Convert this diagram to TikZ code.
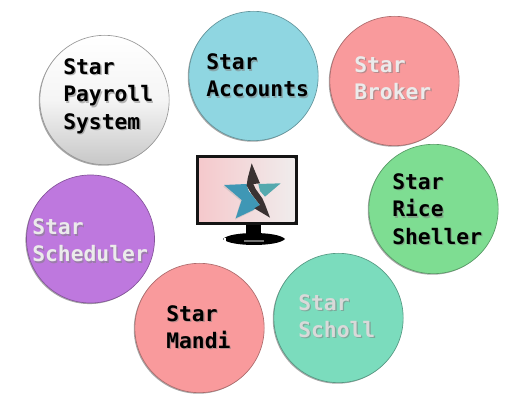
\documentclass[tikz,border=0pt]{standalone}
\usepackage{fontspec}
\setmainfont{DejaVu Sans Mono}[BoldFont=DejaVu Sans Mono Bold]
\usetikzlibrary{shadows}
\definecolor{cblue}{HTML}{8FD6E1}
\definecolor{cpink}{HTML}{F99A9C}
\definecolor{cgreen}{HTML}{7EDD92}
\definecolor{cteal}{HTML}{7BDCBD}
\definecolor{cpurple}{HTML}{BE78DE}
\definecolor{stark}{HTML}{3F97B5}
\definecolor{starg}{HTML}{55A9AE}
\definecolor{sdark}{HTML}{3A3232}
\definecolor{scrpink}{HTML}{F5C9CC}
\definecolor{scrgray}{HTML}{F0ECEC}
\tikzset{
  disc/.style={circle,minimum size=97pt,inner sep=0pt,draw=#1!70!black,line width=.5pt,fill=#1,
    drop shadow={shadow xshift=-.8pt,shadow yshift=-.8pt,opacity=.35,fill=black}},
  label/.style={anchor=west,align=left,inner sep=0pt,font=\fontsize{16pt}{20.6pt}\selectfont\bfseries,text=#1},
  lblshadow/.style={label=black!#1,opacity=.55},
}
\newcommand{\lbl}[6]{%
  \node[lblshadow=#5] at (#2+1.3,#3+1.5) {#6};
  \node[label=#4] (#1) at (#2,#3) {#6};}
\begin{document}
\begin{tikzpicture}[x=.75pt,y=-.75pt]
\useasboundingbox (0,0) rectangle (507,402);
\fill[white] (0,0) rectangle (507,402);
% discs
\node[disc=cblue] (accounts) at (253.5,76) {};
\node[disc=cpink] (broker) at (394.5,81) {};
\node[disc=cgreen] (rice) at (433.5,209) {};
\node[disc=cteal] (scholl) at (338.5,318) {};
\node[disc=cpink] (mandi) at (199.5,328) {};
\node[circle,minimum size=96pt,inner sep=0pt,draw=cpurple!70!black,line width=.5pt,fill=cpurple,
  drop shadow={shadow xshift=-.8pt,shadow yshift=-.8pt,opacity=.35,fill=black}] (scheduler) at (90.5,239) {};
\node[circle,minimum size=97pt,inner sep=0pt,draw=black!40,line width=.5pt,top color=white,bottom color=black!22,middle color=black!4,
  drop shadow={shadow xshift=-.8pt,shadow yshift=-.8pt,opacity=.35,fill=black}] (payroll) at (104.5,100) {};
% labels
\lbl{tpayroll}{63}{96}{black}{50}{Star\\Payroll\\System}
\lbl{taccounts}{206}{75.5}{black}{50}{Star\\Accounts}
\lbl{tbroker}{354}{78}{white!92!black}{50}{Star\\Broker}
\lbl{trice}{392}{209}{black}{50}{Star\\Rice\\Sheller}
\lbl{tscholl}{298}{316}{white!85!black}{50}{Star\\Scholl}
\lbl{tmandi}{166}{327}{black}{50}{Star\\Mandi}
\lbl{tscheduler}{32}{240.5}{white!92!black}{50}{Star\\Scheduler}
% monitor
\fill[black] (246,222) rectangle (261,241);
\fill[black] (223,239) .. controls (230,231) and (278,231) .. (285,239) .. controls (278,247) and (230,247) .. (223,239) -- cycle;
\fill[black!55] (244,240) rectangle (264,242);
\fill[white] (224,238) rectangle (226,241);
\fill[black!92] (195.5,155) rectangle (298,225);
\shade[left color=scrpink,right color=scrgray] (199,159) rectangle (294.5,222);
% star
\begin{scope}[shift={(215,155)},x=.25pt,y=-.25pt]
\fill[black!30,opacity=.45] (24,94) -- (95,91) -- (132,154) -- (112,169) -- (60,194) -- (77,138) -- cycle;
\fill[stark] (27,90) -- (95,87) -- (100,105) -- (135,150) -- (115,165) -- (62,190) -- (80,135) -- cycle;
\fill[starg] (130,87) -- (197,85) -- (150,125) -- (135,108) -- cycle;
\draw[white,line width=1pt] (98,92) -- (104,108) -- (138,150);
\fill[sdark] (110,25) -- (135,85) -- (115,87) -- (122,102) -- (142,130) -- (150,148) -- (165,188) -- (118,160) -- (135,150) -- (110,118) -- (95,92) -- (98,70) -- cycle;
\end{scope}
\end{tikzpicture}
\end{document}
